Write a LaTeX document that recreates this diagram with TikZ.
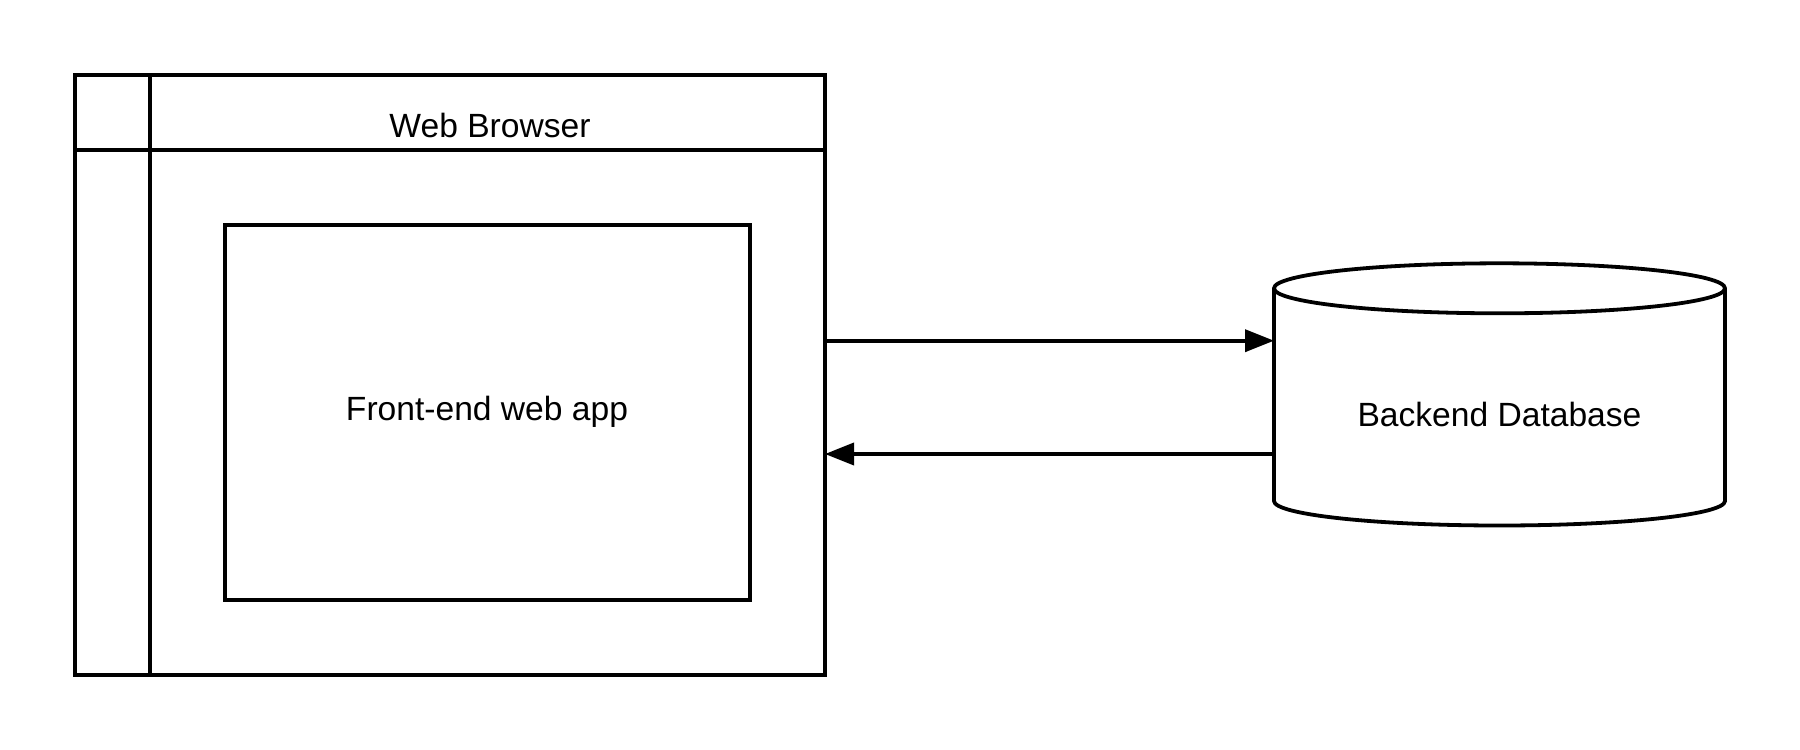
\documentclass[tikz,border=0pt]{standalone}
\usepackage{fontspec}
\setmainfont{Liberation Sans}
\usetikzlibrary{arrows.meta}
\begin{document}
\begin{tikzpicture}[x=1pt,y=-1pt,
  line width=3.8pt,
  box/.style={draw=black, line width=3.8pt, rectangle, inner sep=0pt, outer sep=0pt, anchor=north west},
  lbl/.style={anchor=base, inner sep=0pt, font=\fontsize{33.6}{40}\selectfont},
  conn/.style={draw=black, line width=3.8pt, -{Triangle[length=29pt,width=22pt]}}]
\useasboundingbox (0,0) rectangle (1800,750);
\fill[white] (0,0) rectangle (1800,750);
% web browser window
\node[box, minimum width=750pt, minimum height=600pt] (browser) at (75,75) {};
\coordinate (hdrL) at (75,150);
\coordinate (hdrR) at (825,150);
\coordinate (divT) at (150,75);
\coordinate (divB) at (150,675);
\draw (hdrL) -- (hdrR);
\draw (divT) -- (divB);
\node[lbl] (title) at (490,137.3) {Web Browser};
% front-end app
\node[box, minimum width=525pt, minimum height=375pt] (app) at (225,225) {};
\node[lbl] (apptext) at (487,420) {Front-end web app};
% database cylinder
\draw (1274,288.3) -- (1274,501)
  arc[start angle=180, end angle=360, x radius=225.5pt, y radius=24.5pt]
  -- (1725,288.3)
  arc[start angle=0, end angle=180, x radius=225.5pt, y radius=25pt] -- cycle;
\draw (1274,288.3) arc[start angle=180, end angle=360, x radius=225.5pt, y radius=25pt];
\node[inner sep=0pt, outer sep=0pt, minimum width=451pt, minimum height=213pt] (db) at (1499.5,394.6) {};
\node[lbl] (dbtext) at (1499.5,426.7) {Backend Database};
% connectors
\coordinate (yA) at (0,340.7);
\coordinate (yB) at (0,454);
\draw[conn] (browser.east |- yA) -- (db.west |- yA);
\draw[conn] (db.west |- yB) -- (browser.east |- yB);
\end{tikzpicture}
\end{document}
